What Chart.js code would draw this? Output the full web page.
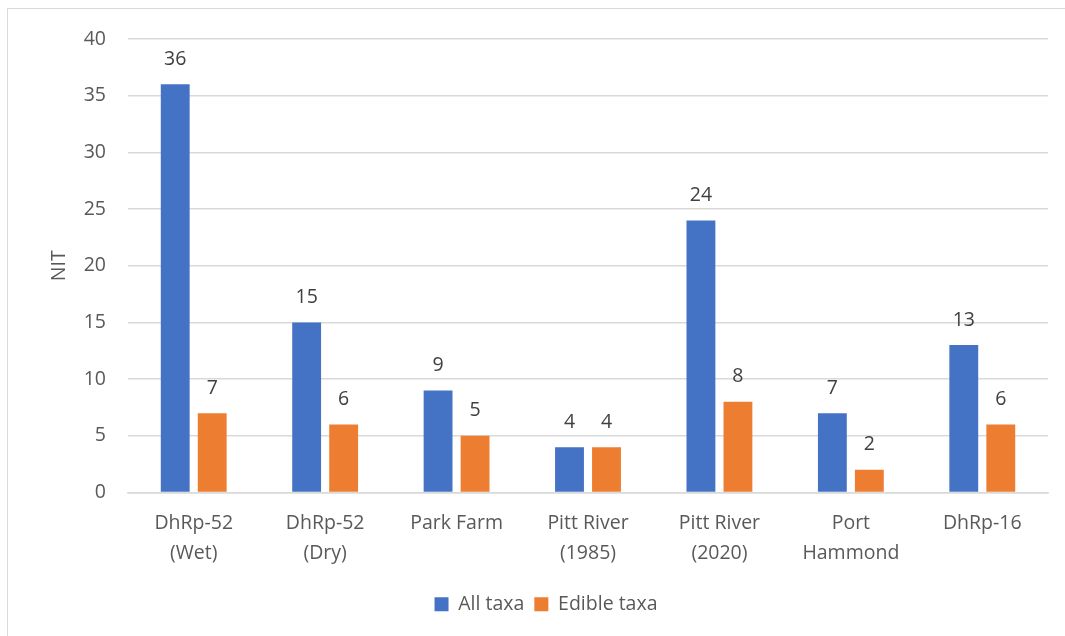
<!DOCTYPE html>
<html>
<head>
<meta charset="utf-8">
<script src="https://cdn.jsdelivr.net/npm/chart.js@4.4.1/dist/chart.umd.min.js"></script>
<style>
  html, body { margin: 0; padding: 0; background: #fff; }
  #wrap { position: relative; width: 1065px; height: 636px; overflow: hidden; }
  #frame { position: absolute; left: 7px; top: 8px; width: 1100px; height: 700px; border: 1.5px solid #d9d9d9; box-sizing: border-box; }
  canvas { position: absolute; left: 0; top: 0; }
</style>
</head>
<body>
<div id="wrap">
  <div id="frame"></div>
  <canvas id="c" width="1065" height="636"></canvas>
</div>
<script>
const categories = [["DhRp-52", "(Wet)"], ["DhRp-52", "(Dry)"], "Park Farm", ["Pitt River", "(1985)"], ["Pitt River", "(2020)"], ["Port", "Hammond"], "DhRp-16"];
const allTaxa = [36, 15, 9, 4, 24, 7, 13];
const edibleTaxa = [7, 6, 5, 4, 8, 2, 6];
const yTicks = [0, 5, 10, 15, 20, 25, 30, 35, 40];

const FONT = "'Open Sans', 'Liberation Sans', sans-serif";
const FS = 19.5;

const valueLabels = {
  id: 'valueLabels',
  afterDatasetsDraw(chart) {
    const ctx = chart.ctx;
    ctx.save();
    ctx.font = FS + "px " + FONT;
    ctx.fillStyle = '#404040';
    ctx.textAlign = 'center';
    ctx.textBaseline = 'middle';
    chart.data.datasets.forEach((ds, i) => {
      chart.getDatasetMeta(i).data.forEach((bar, j) => {
        ctx.fillText(String(ds.data[j]), bar.x, bar.y - 25);
      });
    });
    ctx.restore();
  }
};

new Chart(document.getElementById('c'), {
  type: 'bar',
  data: {
    labels: categories,
    datasets: [
      { label: 'All taxa', data: allTaxa, backgroundColor: '#4472C4', barPercentage: 0.78, categoryPercentage: 0.563 },
      { label: 'Edible taxa', data: edibleTaxa, backgroundColor: '#ED7D31', barPercentage: 0.78, categoryPercentage: 0.563 }
    ]
  },
  options: {
    responsive: false,
    animation: false,
    layout: { padding: { left: 44, right: 17, top: 39, bottom: 12 } },
    plugins: {
      legend: {
        position: 'bottom',
        labels: { boxWidth: 14, boxHeight: 14, font: { size: FS, family: FONT }, color: '#595959', padding: 10 }
      },
      tooltip: { enabled: false }
    },
    scales: {
      x: {
        grid: { display: false, drawTicks: false },
        border: { color: '#d9d9d9', width: 1.5 },
        ticks: { font: { size: FS, family: FONT, lineHeight: 1.54 }, color: '#595959', padding: 16, maxRotation: 0, autoSkip: false },
        afterFit(s) { s.height = 92; }
      },
      y: {
        min: 0, max: 40,
        afterBuildTicks(s) { s.ticks = yTicks.map(v => ({ value: v })); },
        grid: { color: '#d9d9d9', lineWidth: 1.5, drawTicks: false },
        border: { display: false },
        ticks: { font: { size: FS, family: FONT }, color: '#595959', padding: 22 },
        title: { display: true, text: 'NIT', font: { size: FS, family: FONT }, color: '#595959', padding: 4 },
        afterFit(s) { s.width = 84; }
      }
    }
  },
  plugins: [valueLabels]
});
</script>
</body>
</html>
